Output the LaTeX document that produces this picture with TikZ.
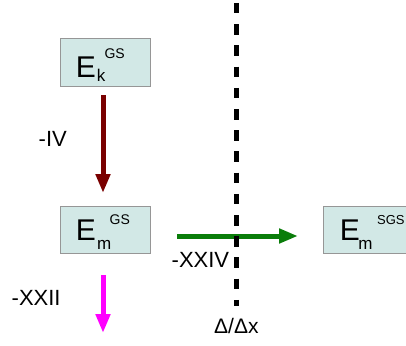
\documentclass[tikz,border=0pt]{standalone}
\usepackage{fontspec}
\setmainfont{Liberation Sans}
\usetikzlibrary{arrows.meta}
\definecolor{boxfill}{RGB}{210,232,230}
\definecolor{boxline}{RGB}{150,150,150}
\definecolor{darkred}{RGB}{122,0,0}
\definecolor{mygreen}{RGB}{10,125,10}
\definecolor{mymagenta}{RGB}{255,0,255}
\tikzset{
  ebox/.style={draw=boxline, line width=0.8pt, fill=boxfill, minimum width=90pt, minimum height=48pt, inner sep=0pt},
  bigE/.style={anchor=base west, inner sep=0pt, font=\fontsize{30}{30}\selectfont},
  subtxt/.style={anchor=base west, inner sep=0pt, font=\fontsize{17}{17}\selectfont},
  suptxt/.style={anchor=base west, inner sep=0pt, font=\fontsize{14}{14}\selectfont},
  lbl/.style={anchor=base west, inner sep=0pt, font=\fontsize{22}{22}\selectfont},
  fatarrow/.style={line width=5pt, -{Triangle[length=19pt,width=14pt]}},
}
\begin{document}
\begin{tikzpicture}[x=1pt,y=-1pt]
\useasboundingbox (0,0) rectangle (406,345);
\clip (0,0) rectangle (406,345);
% boxes
\node[ebox] (b1) at (105,62.5) {};
\node[ebox, minimum height=47pt] (b2) at (105,229.5) {};
\node[ebox, minimum height=47pt] (b3) at (368,229.5) {};
% box texts
\node[bigE] (e1) at (75.6,77.7) {E};
\node[subtxt] (s1) at (96.6,81.7) {k};
\node[suptxt] (p1) at (104.3,58.5) {GS};
\node[bigE] (e2) at (75.6,240.5) {E};
\node[subtxt] (s2) at (97,249.5) {m};
\node[suptxt] (p2) at (109.5,224) {GS};
\node[bigE] (e3) at (339.6,240.5) {E};
\node[subtxt] (s3) at (358.2,249.5) {m};
\node[suptxt, font=\fontsize{13}{13}\selectfont] (p3) at (377,224) {SGS};
% arrows
\coordinate (r1) at (103,95);
\coordinate (r2) at (103,193);
\draw[fatarrow, darkred] (r1) -- (r2);
\coordinate (g1) at (177,236);
\coordinate (g2) at (298,236);
\draw[fatarrow, mygreen] (g1) -- (g2);
\coordinate (m1) at (103,275);
\coordinate (m2) at (103,333);
\draw[fatarrow, mymagenta] (m1) -- (m2);
% dashed line
\coordinate (d1) at (236.5,3);
\coordinate (d2) at (236.5,306);
\draw[line width=5pt, dash pattern=on 10.5pt off 10.7pt] (d1) -- (d2);
% labels
\node[lbl] (l1) at (38.5,146.5) {-IV};
\node[lbl] (l2) at (171.5,267) {-XXIV};
\node[lbl] (l3) at (11.5,305) {-XXII};
\node[lbl, font=\fontsize{21}{21}\selectfont] (l4) at (214,333) {Δ/Δx};
\end{tikzpicture}
\end{document}
